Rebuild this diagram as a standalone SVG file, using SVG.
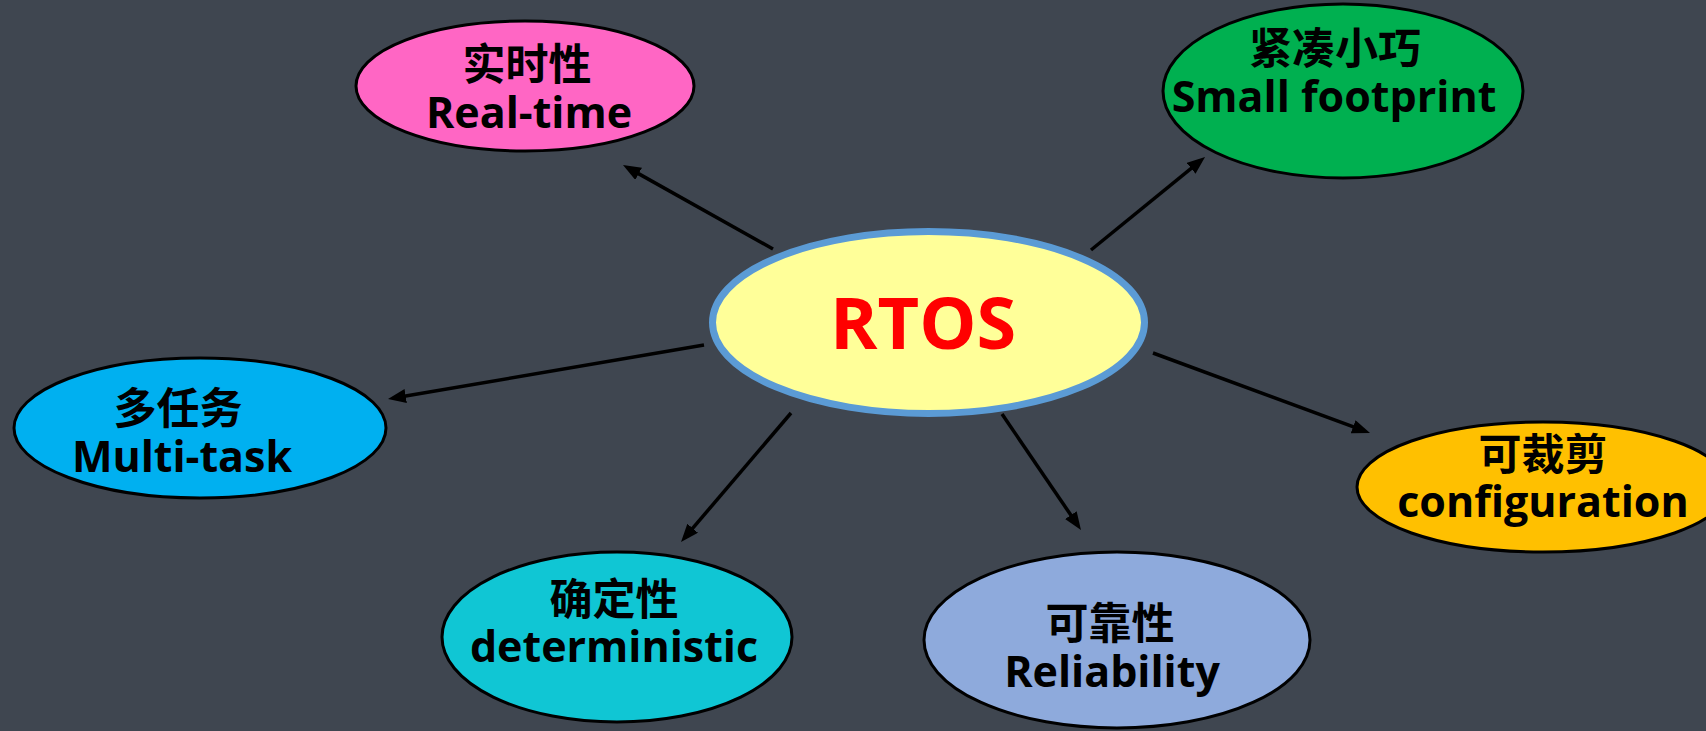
<svg xmlns="http://www.w3.org/2000/svg" width="1706" height="731" viewBox="0 0 1706 731">
<defs>
<style>
.node { stroke: #000; stroke-width: 3; }
.t { font-family: "Open Sans", "Noto Sans CJK SC", sans-serif; font-weight: bold; fill: #000; text-anchor: middle; }
.cjk { font-family: "Noto Sans CJK SC", sans-serif; font-size: 43px; }
.lat { font-size: 43px; }
.conn line { stroke: #000; stroke-width: 3.5; marker-end: url(#arr); }
</style>
<marker id="arr" viewBox="0 0 18 14" markerUnits="userSpaceOnUse" markerWidth="18" markerHeight="14" refX="12" refY="7" orient="auto">
<path d="M0,0 L18,7 L0,14 Z" fill="#000"/>
</marker>
</defs>
<rect width="1706" height="731" fill="#3f4650"/>
<g id="connectors" class="conn">
<line x1="773" y1="249" x2="628.2" y2="167.9"/>
<line x1="1091" y1="250" x2="1200.4" y2="160.8"/>
<line x1="704" y1="345" x2="393.9" y2="398.0"/>
<line x1="1153" y1="353" x2="1364.4" y2="430.9"/>
<line x1="791" y1="413" x2="684.9" y2="537.4"/>
<line x1="1002" y1="414" x2="1077.6" y2="525.0"/>
</g>
<g id="rtos">
<ellipse cx="928.5" cy="322.5" rx="216" ry="91" fill="#ffff99" stroke="#5b9bd5" stroke-width="7"/>
<text class="t" x="923" y="349" font-size="72" style="fill:#ff0000">RTOS</text>
</g>
<g id="realtime">
<ellipse class="node" cx="525" cy="86" rx="169" ry="65" fill="#ff66c4"/>
<text class="t cjk" x="527" y="80">实时性</text>
<text class="t lat" x="529" y="128">Real-time</text>
</g>
<g id="smallfootprint">
<ellipse class="node" cx="1343" cy="91" rx="180" ry="87" fill="#00b050"/>
<text class="t cjk" x="1335" y="64">紧凑小巧</text>
<text class="t lat" x="1334" y="112">Small footprint</text>
</g>
<g id="multitask">
<ellipse class="node" cx="200" cy="428" rx="186" ry="70" fill="#00b0f0"/>
<text class="t cjk" x="178" y="424">多任务</text>
<text class="t lat" x="182" y="472">Multi-task</text>
</g>
<g id="configuration">
<ellipse class="node" cx="1543" cy="487" rx="186" ry="65" fill="#ffc000"/>
<text class="t cjk" x="1543" y="470">可裁剪</text>
<text class="t lat" x="1543" y="517">configuration</text>
</g>
<g id="deterministic">
<ellipse class="node" cx="617" cy="637" rx="175" ry="85" fill="#10c6d4"/>
<text class="t cjk" x="614" y="615">确定性</text>
<text class="t lat" x="614" y="662">deterministic</text>
</g>
<g id="reliability">
<ellipse class="node" cx="1117" cy="640" rx="193" ry="88" fill="#8eaadc"/>
<text class="t cjk" x="1110" y="639">可靠性</text>
<text class="t lat" x="1112" y="687">Reliability</text>
</g>
</svg>
